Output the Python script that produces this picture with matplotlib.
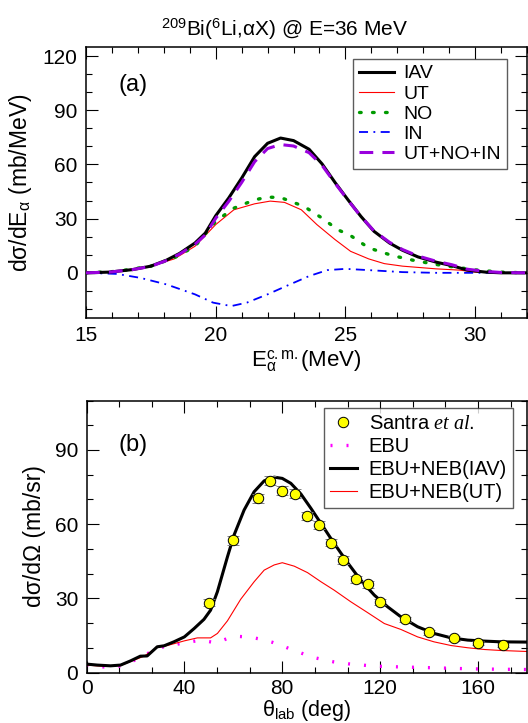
import matplotlib
matplotlib.use('Agg')
import matplotlib.pyplot as plt
from matplotlib.ticker import MultipleLocator
from matplotlib.lines import Line2D

plt.rcParams['font.family'] = ['Liberation Sans', 'DejaVu Sans']
plt.rcParams['mathtext.fontset'] = 'custom'
plt.rcParams['mathtext.rm'] = 'Liberation Sans'
plt.rcParams['mathtext.it'] = 'Liberation Serif:italic'
plt.rcParams['mathtext.bf'] = 'Liberation Sans:bold'

# ---- panel (a): alpha energy distributions ----
e_iav = [15, 15.9, 16.8, 17.5, 18.1, 18.6, 19.2, 19.6, 20.0, 20.5, 21.0, 21.5, 22.0, 22.5,
         23.0, 23.6, 24.1, 24.6, 25.1, 25.6, 26.1, 26.7, 27.2, 27.8, 28.5, 29.1, 29.7, 30.4, 31, 32]
iav = [0, 0.4, 1.8, 3.7, 7.0, 10.7, 16.5, 22, 31.6, 41.4, 52.4, 64.3, 71.7, 74.6,
       73.2, 68.4, 60.3, 50, 40.4, 31.2, 23, 16.5, 12.5, 8.8, 5.9, 4.0, 1.5, 0.4, 0, 0]

e_sum = [15, 15.9, 16.8, 17.5, 18.1, 18.6, 19.2, 19.6, 20.0, 20.5, 21.0, 21.5, 22.0, 22.5,
         23.0, 23.6, 24.1, 24.6, 25.1, 25.6, 26.1, 26.7, 27.2, 27.8, 28.5, 29.1, 29.7, 30.4, 31, 32]
usum = [0, 0.4, 1.8, 3.6, 6.8, 10.3, 15.8, 21, 30.2, 39.5, 50.0, 61.5, 68.8, 71.0,
        70.2, 66.5, 59.5, 49.6, 40.2, 31.2, 23.2, 16.9, 12.9, 9.3, 6.4, 4.5, 2.0, 0.8, 0.2, 0]

e_ut = [15, 16.2, 17.5, 18.4, 19.2, 20.0, 20.7, 21.5, 22.1, 22.65, 23.3, 23.9, 24.6, 25.2,
        25.9, 26.5, 27.2, 28.5, 29.4, 30.0, 31, 32]
ut = [0, 0.8, 3.7, 7.7, 14.7, 26.7, 34.9, 38.2, 39.7, 39.0, 34.9, 26.7, 18.4, 11.9,
      7.7, 5.1, 3.7, 2.2, 1.5, 0.4, 0, 0]

e_no = [15, 16.2, 17.5, 18.4, 19.2, 20.0, 20.7, 21.5, 22.0, 22.5, 22.9, 23.4, 24.1, 24.7,
        25.2, 25.9, 26.8, 27.6, 28.5, 29.4, 30.1, 31, 32]
no = [0, 0.8, 3.7, 8.3, 14.7, 28.5, 35.8, 40.4, 41.9, 41.7, 39.5, 36.8, 30.3, 23.9,
      20.6, 13.8, 9.6, 7.0, 4.6, 2.8, 1.5, 0.4, 0]

e_in = [15, 16.2, 17.1, 18.1, 19.2, 19.9, 20.6, 21.2, 22.0, 22.8, 23.6, 24.3, 25.0, 25.9,
        27.2, 28.5, 32]
inn = [0, -0.6, -2.8, -6.4, -11.9, -16.5, -18.4, -16.5, -11.9, -6.8, -1.8, 1.5, 2.2, 1.5,
       0.4, 0, 0]

# ---- panel (b): alpha angular distributions ----
th = [0, 4.4, 9.8, 13.9, 18, 22, 24.8, 28.9, 31.7, 35.7, 40, 44, 48, 50.7, 53.5, 57.6, 60.3,
      64.4, 68.5, 72.6, 76.7, 80, 83.5, 87.6, 91.7, 95.8, 101.2, 106.7, 112, 117.6, 123,
      128.5, 135.3, 142, 149, 155.8, 162.6, 169.4, 180]
neb_iav = [3.4, 3.0, 2.7, 3.0, 4.7, 6.6, 6.7, 10.4, 10.8, 12.4, 14.4, 17.8, 21.5, 25.2, 32.7,
           46.8, 55.6, 65.7, 73.1, 77.5, 79.0, 78.5, 76.5, 72.2, 66.4, 60.3, 52.2, 44.4, 37.4,
           31.3, 26.6, 22.5, 18.5, 15.8, 14.0, 13.1, 12.7, 12.4, 12.3]

th_ut = [0, 5.7, 13.9, 19.4, 23.5, 28.9, 33, 40, 45.3, 50.7, 53.5, 57.6, 63, 68.5, 72.6, 76.7,
         80, 84.9, 90.3, 95.8, 101.2, 108, 114.9, 121.7, 128.5, 135.3, 142, 149, 155.8, 162.6,
         169.4, 180]
neb_ut = [3.0, 2.6, 2.8, 5.0, 6.6, 10.1, 10.9, 12.8, 14.0, 14.0, 15.8, 20.9, 29.6, 36.7, 41.4,
          43.5, 44.4, 43.0, 40.4, 36.7, 33.3, 28.6, 24.2, 19.8, 17.4, 14.4, 12.4, 10.9, 10.0,
          9.3, 8.9, 8.5]

th_ebu = [0, 5, 10, 14, 19, 23, 28, 33, 40, 45, 48, 50, 53, 58, 62, 67, 71, 76, 80, 84, 89,
          94, 101, 107, 115, 120, 130, 142, 156, 170, 180]
ebu = [3.0, 2.3, 2.2, 2.6, 4.7, 6.3, 9.6, 10.7, 12.0, 12.8, 13.0, 12.5, 12.0, 13.9, 14.6,
       14.3, 13.5, 12.2, 10.8, 9.2, 7.4, 5.8, 4.3, 3.5, 2.8, 2.5, 2.2, 1.9, 1.5, 1.3, 1.2]

th_exp = [50, 60, 70, 75, 80, 85, 90, 95, 100, 105, 110, 115, 120, 130, 140, 150, 160, 170]
sig_exp = [28.2, 53.4, 70.4, 77.5, 73.5, 72.3, 63.4, 59.5, 52.5, 45.5, 37.7, 35.6, 28.6,
           21.5, 16.2, 13.8, 12.0, 11.1]
err_exp = [1.5, 1.8, 1.8, 1.8, 1.8, 1.8, 1.6, 1.6, 1.5, 1.5, 1.4, 1.4, 1.2, 1.0, 1.0, 0.9,
           0.9, 0.9]

fig = plt.figure(figsize=(5.28, 7.23), dpi=100)

W, H = 528.0, 723.0
ax1 = fig.add_axes([86 / W, 1 - 318 / H, 441 / W, 271 / H])
ax2 = fig.add_axes([86.5 / W, 1 - 672.5 / H, 440.5 / W, 272 / H])


def style_axes(ax):
    ax.tick_params(which='both', direction='in', top=True, right=True,
                   labelsize=15, width=0.8, pad=6)
    ax.tick_params(which='major', length=8.5)
    ax.tick_params(which='minor', length=4.3)
    for s in ax.spines.values():
        s.set_linewidth(1.1)


# (a)
ax1.plot(e_iav, iav, color='black', lw=2.2, label='IAV', zorder=5)
ax1.plot(e_ut, ut, color='red', lw=0.8, label='UT')
ax1.plot(e_no, no, color='#009a00', lw=2.4, ls=(0, (0.5, 3.4)), dash_capstyle='round',
         label='NO')
ax1.plot(e_in, inn, color='blue', lw=1.3, ls=(0, (5, 3, 1, 3)), label='IN')
ax1.plot(e_sum, usum, color='#9900dd', lw=2.2, ls=(0, (4.5, 3)), label='UT+NO+IN', zorder=6)

ax1.set_xlim(15, 32)
ax1.set_ylim(-25, 125)
ax1.xaxis.set_major_locator(MultipleLocator(5))
ax1.xaxis.set_minor_locator(MultipleLocator(1))
ax1.yaxis.set_major_locator(MultipleLocator(30))
ax1.yaxis.set_minor_locator(MultipleLocator(10))
style_axes(ax1)
ax1.set_xlabel(r'E$_{\mathrm{α}}^{\mathrm{c.m.}}$(MeV)', fontsize=16, labelpad=2)
ax1.set_ylabel(r'dσ/dE$_{\mathrm{α}}$ (mb/MeV)', fontsize=16.5, labelpad=6)
ax1.set_title(r'$^{209}$Bi($^{6}$Li,αX) @ E=36 MeV', fontsize=15, x=0.45, pad=8)
ax1.text(0.073, 0.86, '(a)', transform=ax1.transAxes, fontsize=17, va='center')
leg1 = ax1.legend(loc='upper right', bbox_to_anchor=(0.9546, 0.9557), borderaxespad=0,
                  fontsize=14, frameon=True, fancybox=False, edgecolor='#333333',
                  handlelength=1.8, handletextpad=0.5, labelspacing=0.13, borderpad=0.3)
leg1.get_frame().set_linewidth(1.0)

# (b)
ax2.plot(th_ebu, ebu, color='magenta', lw=2.4, ls=(0, (0.6, 4.2)), label='EBU')
ax2.plot(th, neb_iav, color='black', lw=2.2, label='EBU+NEB(IAV)', zorder=4)
ax2.plot(th_ut, neb_ut, color='red', lw=0.8, label='EBU+NEB(UT)')
ax2.errorbar(th_exp, sig_exp, yerr=err_exp, fmt='o', ms=7.5, mfc='yellow', mec='black',
             mew=0.7, ecolor='gray', elinewidth=0.8, capsize=4, capthick=0.8, zorder=6)

ax2.set_xlim(0, 180)
ax2.set_ylim(0, 110)
ax2.xaxis.set_major_locator(MultipleLocator(40))
ax2.xaxis.set_minor_locator(MultipleLocator(40 / 3))
ax2.yaxis.set_major_locator(MultipleLocator(30))
ax2.yaxis.set_minor_locator(MultipleLocator(10))
style_axes(ax2)
ax2.tick_params(axis='x', pad=5)
ax2.set_xlabel(r'θ$_{\mathrm{lab}}$ (deg)', fontsize=15.5, labelpad=0)
ax2.set_ylabel('dσ/dΩ (mb/sr)', fontsize=16.5, labelpad=6)
ax2.text(0.073, 0.837, '(b)', transform=ax2.transAxes, fontsize=17, va='center')

handles, labels = ax2.get_legend_handles_labels()
exp_handle = Line2D([], [], ls='none', marker='o', ms=7.5, mfc='yellow', mec='black', mew=0.7)
leg2 = ax2.legend([exp_handle] + handles, ['Santra $\\mathit{et\\ al.}$'] + labels,
                  loc='upper right', bbox_to_anchor=(0.968, 0.974), borderaxespad=0,
                  fontsize=14.5, frameon=True, fancybox=False, edgecolor='#333333',
                  handlelength=1.3, handletextpad=0.6, labelspacing=0.2, borderpad=0.3)
leg2.get_frame().set_linewidth(1.0)

fig.savefig('out.png', dpi=100)
